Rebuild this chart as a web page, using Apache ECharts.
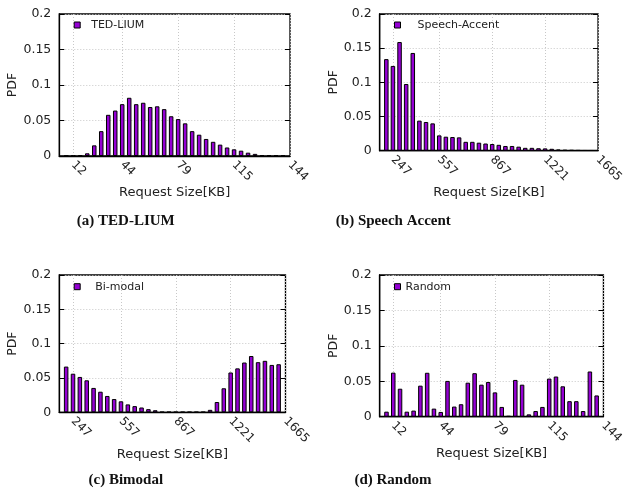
<!DOCTYPE html>
<html>
<head>
<meta charset="utf-8">
<script src="https://cdn.jsdelivr.net/npm/echarts@6/dist/echarts.min.js"></script>
<style>
html,body{margin:0;padding:0;background:#fff;}
#chart{width:626px;height:491px;}
</style>
</head>
<body>
<div id="chart"></div>
<script>
// ---- data ----
const xTickPos = [1, 8, 16, 24, 32];
const smallSizeLabels = ['12', '44', '79', '115', '144'];
const largeSizeLabels = ['247', '557', '867', '1221', '1665'];
const yTicks = [0, 0.05, 0.1, 0.15, 0.2];

const seriesNames = ['TED-LIUM', 'Speech-Accent', 'Bi-modal', 'Random'];
const captions = ['(a) TED-LIUM', '(b) Speech Accent', '(c) Bimodal', '(d) Random'];

const tedLium = [0.0005, 0.0005, 0.001, 0.0038, 0.015, 0.035, 0.058, 0.064, 0.073, 0.082,
  0.073, 0.075, 0.069, 0.070, 0.066, 0.056, 0.052, 0.046, 0.035, 0.030,
  0.024, 0.020, 0.016, 0.012, 0.0094, 0.0075, 0.0047, 0.003, 0.0012, 0.0008,
  0.0008, 0.0008];
const speechAccent = [0.134, 0.124, 0.159, 0.0976, 0.143, 0.044, 0.042, 0.040, 0.0224, 0.0205,
  0.020, 0.0195, 0.013, 0.013, 0.0117, 0.0105, 0.0098, 0.0086, 0.0069, 0.0069,
  0.0059, 0.0042, 0.0042, 0.0036, 0.0034, 0.0028, 0.0018, 0.0012, 0.001, 0.0008,
  0.0006, 0.0006];
const biModal = [0.0666, 0.0562, 0.0515, 0.0466, 0.0355, 0.030, 0.0238, 0.0193, 0.016, 0.0115,
  0.009, 0.007, 0.0046, 0.003, 0.0006, 0.0006, 0.0006, 0.0006, 0.0006, 0.0006,
  0.0006, 0.0036, 0.015, 0.035, 0.058, 0.064, 0.0725, 0.082, 0.073, 0.075,
  0.069, 0.070];
const randomDist = [0.0071, 0.0622, 0.0395, 0.0071, 0.0086, 0.0438, 0.062, 0.0114, 0.0067, 0.0505,
  0.0143, 0.0176, 0.048, 0.0614, 0.0452, 0.049, 0.0343, 0.0138, 0.001, 0.0519,
  0.0452, 0.0033, 0.008, 0.0138, 0.0538, 0.0567, 0.0429, 0.0219, 0.0219, 0.008,
  0.0638, 0.030];

// ---- layout ----
const FONT = 'DejaVu Sans';
const panels = [
  { left: 59.3, top: 14, width: 230.7, height: 142, data: tedLium, labels: smallSizeLabels,
    legendLeft: 73.7, legendTop: 19, textPad: 6, nameGapX: 30, cap: [125.8, 220.7] },
  { left: 379.7, top: 14, width: 226, height: 136.7, data: speechAccent, labels: largeSizeLabels,
    legendLeft: 394, legendTop: 19, textPad: 12, nameGapX: 35, cap: [393.3, 220.7] },
  { left: 59.3, top: 275, width: 226.2, height: 137.3, data: biModal, labels: largeSizeLabels,
    legendLeft: 73.7, legendTop: 280.7, textPad: 10, nameGapX: 34, cap: [125.8, 480] },
  { left: 379.7, top: 275, width: 230.3, height: 141.7, data: randomDist, labels: smallSizeLabels,
    legendLeft: 394, legendTop: 280.7, textPad: 0, nameGapX: 30, cap: [393, 480] }
];

const grids = [], xAxes = [], yAxes = [], legends = [], series = [], graphics = [];
panels.forEach(function (p, k) {
  grids.push({ left: p.left, top: p.top, width: p.width, height: p.height,
    show: true, borderColor: '#000', borderWidth: 1.3, backgroundColor: 'transparent' });
  const labs = p.labels;
  xAxes.push({
    type: 'value', gridIndex: k, min: -1, max: 32,
    axisLine: { show: true, onZero: false, lineStyle: { color: '#000', width: 1.3 } },
    axisTick: { show: false, customValues: xTickPos },
    axisLabel: {
      customValues: xTickPos, rotate: -45, margin: 7,
      fontFamily: FONT, fontSize: 12, color: '#222',
      formatter: function (v) { const i = xTickPos.indexOf(v); return i >= 0 ? labs[i] : ''; }
    },
    splitLine: { show: true, lineStyle: { color: '#c8c8c8', type: [1, 2], width: 1 } },
    name: 'Request Size[KB]', nameLocation: 'middle', nameGap: p.nameGapX,
    nameTextStyle: { fontFamily: FONT, fontSize: 13, color: '#222' }
  });
  yAxes.push({
    type: 'value', gridIndex: k, min: 0, max: 0.2, interval: 0.05, position: 'left',
    axisLine: { show: true, onZero: false, lineStyle: { color: '#000', width: 1.3 } },
    axisTick: { show: true, inside: true, length: 5, lineStyle: { color: '#000' } },
    axisLabel: { margin: 8, fontFamily: FONT, fontSize: 12.5, color: '#222' },
    splitLine: { show: true, lineStyle: { color: '#c8c8c8', type: [1, 2], width: 1 } },
    name: 'PDF', nameLocation: 'middle', nameGap: 35, nameRotate: 90,
    nameTextStyle: { fontFamily: FONT, fontSize: 12.5, color: '#222' }
  });
  legends.push({
    data: [seriesNames[k]], left: p.legendLeft, top: p.legendTop, padding: 0,
    itemWidth: 6, itemHeight: 6, icon: 'rect',
    itemStyle: { color: '#9400d3', borderColor: '#000', borderWidth: 1 },
    textStyle: { fontFamily: FONT, fontSize: 11, color: '#222', lineHeight: 12,
      padding: [0, 0, 0, p.textPad] },
    selectedMode: false
  });
  series.push({
    name: seriesNames[k], type: 'bar', xAxisIndex: k, yAxisIndex: k,
    barWidth: 4.5,
    itemStyle: { color: '#9400d3', borderColor: '#000', borderWidth: 1 },
    data: p.data.map(function (v, i) { return [i, v]; })
  });
  graphics.push({
    type: 'text', x: p.cap[0], y: p.cap[1],
    style: { text: captions[k], font: 'bold 15px "Liberation Serif"', fill: '#111',
      textAlign: 'center', textVerticalAlign: 'middle' }
  });
});
panels.forEach(function (p, k) {
  yAxes.push({
    type: 'value', gridIndex: k, min: 0, max: 0.2, interval: 0.05, position: 'right',
    axisLine: { show: false, onZero: false },
    axisTick: { show: true, inside: true, length: 5, lineStyle: { color: '#000' } },
    axisLabel: { show: false }, splitLine: { show: false }
  });
});

const chart = echarts.init(document.getElementById('chart'), null, { renderer: 'canvas' });
chart.setOption({
  animation: false,
  backgroundColor: '#fff',
  grid: grids, xAxis: xAxes, yAxis: yAxes, legend: legends, series: series,
  graphic: graphics
});
</script>
</body>
</html>
